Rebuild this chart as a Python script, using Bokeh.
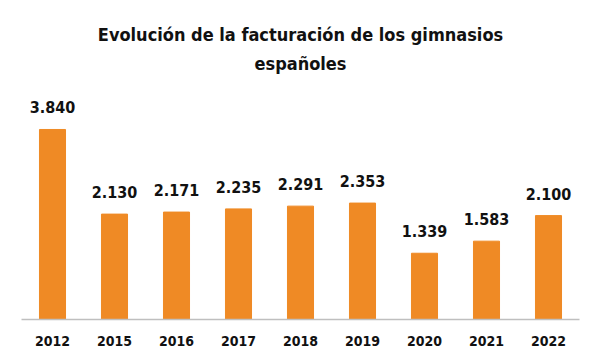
from bokeh.plotting import figure
from bokeh.models import ColumnDataSource, Range1d, Title
from bokeh.core.properties import value
from bokeh.embed import file_html
from bokeh.resources import INLINE

years = ["2012", "2015", "2016", "2017", "2018", "2019", "2020", "2021", "2022"]
revenue = [3840, 2130, 2171, 2235, 2291, 2353, 1339, 1583, 2100]
labels = ["3.840", "2.130", "2.171", "2.235", "2.291", "2.353", "1.339", "1.583", "2.100"]
title_lines = ["Evolución de la facturación de los gimnasios", "españoles"]

FONT = "DejaVu Sans Condensed"

src = ColumnDataSource(dict(x=years, y=revenue, t=labels))

p = figure(frame_width=558, frame_height=240, x_range=years, y_range=Range1d(0, 4850),
           output_backend="svg", toolbar_location=None)
p.title = None

# nearest to the frame first
p.add_layout(Title(text=title_lines[1], align="center", text_font=FONT, text_font_size="18px",
                   text_font_style="bold", text_color="#111111", standoff=11), "above")
p.add_layout(Title(text=title_lines[0], align="center", text_font=FONT, text_font_size="18px",
                   text_font_style="bold", text_color="#111111", standoff=1), "above")
p.add_layout(Title(text=" ", text_font_size="10px", standoff=8), "above")

p.vbar(x="x", top="y", width=0.42, source=src, color="#EF8A25")
p.text(x="x", y="y", text="t", source=src, text_align="center", text_baseline="bottom",
       y_offset=-16, text_font=value(FONT), text_font_style="bold", text_font_size="16px",
       text_color="#111111")

p.yaxis.visible = False
p.xgrid.visible = False
p.ygrid.visible = False
p.outline_line_color = None
p.xaxis.axis_line_color = "#bfbfbf"
p.xaxis.axis_line_width = 1.5
p.xaxis.major_tick_line_color = None
p.xaxis.minor_tick_line_color = None
p.xaxis.major_label_text_font = FONT
p.xaxis.major_label_text_font_style = "bold"
p.xaxis.major_label_text_font_size = "14px"
p.xaxis.major_label_text_color = "#111111"
p.xaxis.major_label_standoff = 10
p.x_range.range_padding = 0
p.min_border_left = 21
p.min_border_right = 7
p.min_border_top = 4
p.min_border_bottom = 4
p.border_fill_color = "white"
p.background_fill_color = "white"

open("out.html", "w").write(file_html(p, INLINE))
